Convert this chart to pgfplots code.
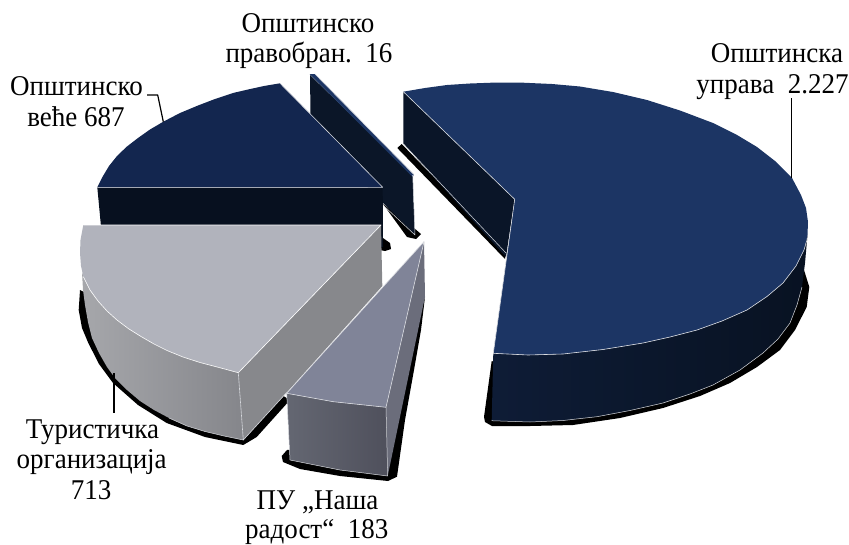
\documentclass[border=0pt]{standalone}
\usepackage{fontspec}
\setmainfont{Liberation Serif}
\usepackage{pgfplots}
\pgfplotsset{compat=1.18}
\definecolor{btop}{HTML}{1C3564}
\definecolor{bwall}{HTML}{0A1528}
\definecolor{bsideL}{HTML}{0E1C36}
\definecolor{bsideR}{HTML}{081222}
\definecolor{vtop}{HTML}{13264F}
\definecolor{vwall}{HTML}{07101F}
\definecolor{swall}{HTML}{0B1628}
\definecolor{gtop}{HTML}{B1B3BC}
\definecolor{gright}{HTML}{87888C}
\definecolor{gsideL}{HTML}{A6A7AB}
\definecolor{gsideR}{HTML}{85868B}
\definecolor{ptop}{HTML}{808498}
\definecolor{pright}{HTML}{6B6D7B}
\definecolor{pfrontL}{HTML}{646772}
\definecolor{pfrontR}{HTML}{4F505C}
\definecolor{edge}{HTML}{D8DADF}
\tikzset{lab/.style={anchor=base,font=\fontsize{27}{27}\selectfont,inner sep=0pt}}
\newcommand\Lb[1]{\scalebox{1}[1.06]{#1}}
\begin{document}
\begin{tikzpicture}
\path[use as bounding box] (0,0) rectangle (849pt,544pt);
\begin{axis}[at={(0,0)},anchor=south west,scale only axis,width=849pt,height=544pt,
  xmin=0,xmax=849,ymin=0,ymax=544,y dir=reverse,axis lines=none,clip=false,
  every axis plot/.append style={no markers,line join=round}]
% --- sliver: Opstinsko pravobran. 16
\addplot[fill=black,draw=none] coordinates {(383,204)(407,237)(416,239)(421,234)(414,228)} -- cycle;
\addplot[fill=swall,draw=none] coordinates {(310,75)(412.7,175)(415,235)(310.7,130)} -- cycle;
\addplot[fill=btop,draw=none] coordinates {(309.5,74)(315,74)(413.8,174.5)(412.7,177)} -- cycle;
\addplot[edge,line width=0.6pt] coordinates {(315,74)(413.8,174.5)};
\addplot[edge,line width=0.5pt] coordinates {(384,206)(415,235)(412.7,175)};
% --- blue inner wall shadow
\addplot[fill=black,draw=none] coordinates {(397.3,148)(401.7,144)(506,252)(505,259)} -- cycle;
% --- blue wall
\addplot[fill=bwall,draw=none] coordinates {(403.3,91.7)(514.7,199.3)(506,257)(403.3,143.5)} -- cycle;
\addplot[edge,line width=0.5pt] coordinates {(403.5,144)(506,253)};
% --- blue outer shadow
\addplot[fill=black,draw=none] coordinates {(491.7,361)(484,417)(485,422)(492,426)(530,426)(573,425)(620,418)(663,408)(700,396)(730,383)(757,367)(780,350)(795,330)(806.7,307)(809.3,287)(804,270)(780,300)(600,400)} -- cycle;
% --- blue outer side
\addplot[left color=bsideL,right color=bsideR,draw=none] coordinates {(493.3,353.3)(528,355)(563,354)(603,349.5)(643,343)(670,337)(697,330)(722,321)(747,310)(767,296.5)(783,283)(796,266)(804,250)(807.5,235)(805,263)(802,287)(797,305)(790,323)(778,339)(763,353)(740,370)(713,385)(690,394)(663,403)(630,410.5)(597,416.7)(563,420.5)(530,422)(491.7,420.7)} -- cycle;
\addplot[edge,line width=0.5pt] coordinates {(491.7,420.7)(530,422)(563,420.5)(597,416.7)(630,410.5)(663,403)(690,394)(713,385)(740,370)(763,353)(778,339)(790,323)(797,305)(802,287)};
% --- blue top
\addplot[fill=btop,draw=none] coordinates {(403.3,91.7)(425,88)(447,85)(470,83.5)(497,82.5)(523,82.7)(552,84)(580,86.5)(613,92)(647,100)(680,110.5)(713,123)(737,135)(757,147)(775,161)(792,178)(801,195)(806,208)(808,222)(807.5,235)(804,250)(796,266)(783,283)(767,296.5)(747,310)(722,321)(697,330)(670,337)(643,343)(603,349.5)(563,354)(528,355)(493.3,353.3)(514.7,199.3)} -- cycle;
\addplot[edge,line width=0.6pt] coordinates {(403.3,91.7)(514.7,199.3)(493.3,353.3)(528,355)(563,354)(603,349.5)(643,343)(670,337)(697,330)(722,321)(747,310)(767,296.5)(783,283)(796,266)(804,250)(807,240)};
% --- vece shadow blob and wall
\addplot[fill=black,draw=none] coordinates {(383,238)(390,243)(391,249)(385,251)(380,250)} -- cycle;
\addplot[fill=vwall,draw=none] coordinates {(97.3,187.3)(382.7,187.3)(383,247)(102,247)(100.7,223.3)} -- cycle;
% --- vece top
\addplot[fill=vtop,draw=none] coordinates {(382.7,187.3)(280,83.3)(264,86)(248,89.5)(233,93)(215,99)(198,105.5)(180,113)(163.3,121.7)(150,129.5)(138,138)(126.7,146.7)(117,156)(109,166)(103,176)(97.3,187.3)} -- cycle;
\addplot[edge,line width=0.6pt] coordinates {(280,83.3)(382.7,187.3)(97.3,187.3)};
% --- gray shadow
\addplot[fill=black,draw=none] coordinates {(80,290)(78.7,310)(82,328)(88.3,343)(99,364)(113,383)(138,405)(166.7,423)(205,437)(243.3,445)(256.7,437)(272,420)(290,400)(240,370)} -- cycle;
% --- gray outer wall
\addplot[left color=gsideL,right color=gsideR,draw=none] coordinates {(238.3,372.7)(219,367.5)(200,362.5)(183,357)(167,350.5)(154,344)(141,336.5)(129,329)(117,320)(107,311)(98,301)(90,290)(83.5,277)(82,272)(83,290)(85,305)(88,322)(92,338)(99,353)(107,367)(115,378)(127,390)(140,401)(154,410)(169,418)(187,426)(205,431.5)(224,436)(243.3,440)} -- cycle;
\addplot[fill=gright,draw=none] coordinates {(381,225)(382.3,286)(286.7,392.5)(243.3,440)(238.3,372.7)} -- cycle;
% --- gray top
\addplot[fill=gtop,draw=none] coordinates {(381,225)(238.3,372.7)(219,367.5)(200,362.5)(183,357)(167,350.5)(154,344)(141,336.5)(129,329)(117,320)(107,311)(98,301)(90,290)(83.5,277)(81,266)(80,253)(80.5,240)(83.3,225)} -- cycle;
\addplot[white,line width=0.6pt] coordinates {(83.3,225)(381,225)(238.3,372.7)(219,367.5)(200,362.5)(183,357)(167,350.5)(154,344)(141,336.5)(129,329)(117,320)(107,311)(98,301)(90,290)(83.5,277)};
\addplot[edge,line width=0.6pt] coordinates {(238.3,372.7)(243.3,440)(286.7,392.5)};
\addplot[edge,line width=0.5pt] coordinates {(243.3,440)(224,436)(205,431.5)(187,426)(169,418)};
% --- PU shadow
\addplot[fill=black,draw=none] coordinates {(425,297)(421,330)(414,370)(405,420)(397,476.7)(388,481)(340,476)(300,469)(283,462)(281.7,456)(287,450)(380,440)} -- cycle;
% --- PU walls
\addplot[fill=pright,draw=none] coordinates {(424,241.7)(425,296.7)(387.7,476)(386,407.3)} -- cycle;
\addplot[left color=pfrontL,right color=pfrontR,draw=none] coordinates {(286.7,393.3)(333.3,401.7)(386,407.3)(387.7,476)(340,470)(290,460)} -- cycle;
\addplot[fill=ptop,draw=none] coordinates {(424,241.7)(386,407.3)(333.3,401.7)(286.7,393.3)} -- cycle;
\addplot[edge,line width=0.6pt] coordinates {(424,241.7)(386,407.3)(333.3,401.7)(286.7,393.3)(424,241.7)};
\addplot[edge,line width=0.5pt] coordinates {(386,407.3)(387.7,476)(340,470)(290,460)(286.7,393.3)};
% --- leaders
\addplot[black,line width=1.2pt] coordinates {(147,95)(157.7,95)(163.3,121.7)};
\addplot[black,line width=1.2pt] coordinates {(791.7,98.3)(791.7,178)};
\addplot[black,line width=1.2pt] coordinates {(114,373.3)(114,413.3)};
% --- labels
\node[lab] at (axis cs:308,32) {\Lb{Општинско}};
\node[lab] at (axis cs:309,62) {\Lb{правобран.\ \ 16}};
\node[lab] at (axis cs:76.5,95) {\Lb{Општинско}};
\node[lab] at (axis cs:76,126) {\Lb{веће 687}};
\node[lab] at (axis cs:777,62) {\Lb{Општинска}};
\node[lab] at (axis cs:772.5,93) {\Lb{управа\ \ 2.227}};
\node[lab] at (axis cs:92.5,438) {\Lb{Туристичка}};
\node[lab] at (axis cs:91.7,468) {\Lb{организација}};
\node[lab] at (axis cs:91,499) {\Lb{713}};
\node[lab] at (axis cs:317.5,509) {\Lb{ПУ „Наша}};
\node[lab] at (axis cs:316.7,538) {\Lb{радост“\ \ 183}};
\end{axis}
\end{tikzpicture}
\end{document}
